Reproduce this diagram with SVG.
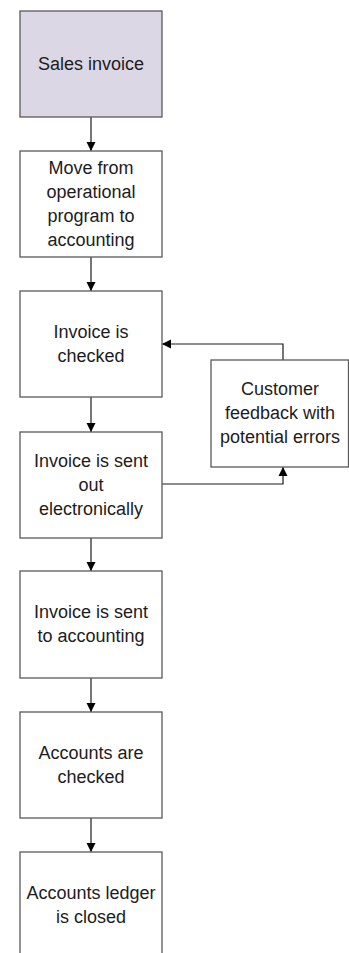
<svg xmlns="http://www.w3.org/2000/svg" width="349" height="953" viewBox="0 0 349 953">
<style>
.box{fill:#ffffff;stroke:#5a5a5a;stroke-width:1.3}
.start{fill:#dcd7e4}
.t{font-family:"Liberation Sans",Arial,sans-serif;font-size:18px;fill:#1c1c1c;text-anchor:middle}
.c{fill:none;stroke:#1c1c1c;stroke-width:1.2}
</style>
<defs>
<marker id="ah" markerWidth="10" markerHeight="10" refX="9" refY="5" orient="auto" markerUnits="userSpaceOnUse">
<path d="M0,0.5 L9,5 L0,9.5 Z" fill="#000"/>
</marker>
</defs>
<rect width="349" height="953" fill="#fff"/>
<g id="connectors">
<line class="c" x1="91" y1="117" x2="91" y2="151" marker-end="url(#ah)"/>
<line class="c" x1="91" y1="257" x2="91" y2="291" marker-end="url(#ah)"/>
<line class="c" x1="91" y1="397" x2="91" y2="432" marker-end="url(#ah)"/>
<line class="c" x1="91" y1="538" x2="91" y2="571" marker-end="url(#ah)"/>
<line class="c" x1="91" y1="678" x2="91" y2="712" marker-end="url(#ah)"/>
<line class="c" x1="91" y1="818" x2="91" y2="852" marker-end="url(#ah)"/>
<polyline class="c" points="283,360 283,344 162,344" marker-end="url(#ah)"/>
<polyline class="c" points="162,484 283,484 283,467" marker-end="url(#ah)"/>
</g>
<g id="n1"><rect class="box start" x="20" y="11" width="142" height="106"/><text class="t" x="91" y="70">Sales invoice</text></g>
<g id="n2"><rect class="box" x="20" y="151" width="142" height="106"/><text class="t" x="91"><tspan x="91" y="174">Move from</tspan><tspan x="91" y="198">operational</tspan><tspan x="91" y="222">program to</tspan><tspan x="91" y="246">accounting</tspan></text></g>
<g id="n3"><rect class="box" x="20" y="291" width="142" height="106"/><text class="t"><tspan x="91" y="338">Invoice is</tspan><tspan x="91" y="362">checked</tspan></text></g>
<g id="n4"><rect class="box" x="20" y="432" width="142" height="106"/><text class="t"><tspan x="91" y="467">Invoice is sent</tspan><tspan x="91" y="491">out</tspan><tspan x="91" y="515">electronically</tspan></text></g>
<g id="n5"><rect class="box" x="20" y="571" width="142" height="107"/><text class="t"><tspan x="91" y="618">Invoice is sent</tspan><tspan x="91" y="642">to accounting</tspan></text></g>
<g id="n6"><rect class="box" x="20" y="712" width="142" height="106"/><text class="t"><tspan x="91" y="759">Accounts are</tspan><tspan x="91" y="783">checked</tspan></text></g>
<g id="n7"><rect class="box" x="20" y="852" width="142" height="106"/><text class="t"><tspan x="91" y="899">Accounts ledger</tspan><tspan x="91" y="923">is closed</tspan></text></g>
<g id="n8"><rect class="box" x="211" y="360" width="137.5" height="107"/><text class="t"><tspan x="280" y="395">Customer</tspan><tspan x="280" y="419">feedback with</tspan><tspan x="280" y="443">potential errors</tspan></text></g>
</svg>
